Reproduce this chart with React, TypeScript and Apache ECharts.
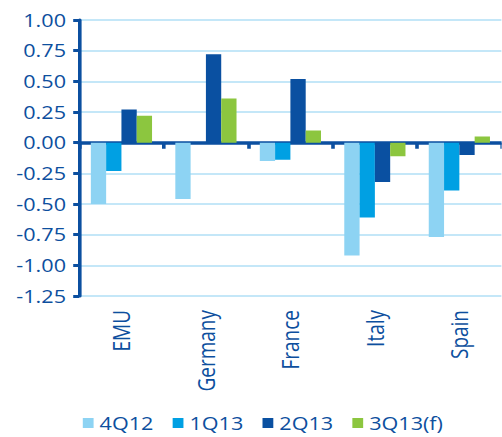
import React, { useEffect, useRef } from "react";
import * as echarts from "echarts";

const categories = ["EMU", "Germany", "France", "Italy", "Spain"];
const seriesNames = ["4Q12", "1Q13", "2Q13", "3Q13(f)"];
const q4_12 = [-0.5, -0.46, -0.15, -0.92, -0.77];
const q1_13 = [-0.23, 0, -0.14, -0.61, -0.39];
const q2_13 = [0.27, 0.72, 0.52, -0.32, -0.1];
const q3_13 = [0.22, 0.36, 0.1, -0.11, 0.05];
const seriesValues = [q4_12, q1_13, q2_13, q3_13];
const colors = ["#8dd3f3", "#00a0e3", "#0a50a1", "#8cc63f"];

const STRETCH = 1.2;
const TEXT = "#0d4f9e";
const FONT = "'Open Sans', 'Noto Sans', sans-serif";

export default function App() {
  const ref = useRef<HTMLDivElement>(null);
  useEffect(() => {
    if (!ref.current) return;
    const chart = echarts.init(ref.current, undefined, { renderer: "svg" });
    chart.setOption({
      animation: false,
      textStyle: { fontFamily: FONT },
      grid: { left: 66, top: 20, width: 352, height: 276, containLabel: false },
      legend: {
        data: seriesNames,
        left: 64,
        top: 409,
        itemWidth: 9,
        itemHeight: 10,
        itemGap: 16,
        icon: "rect",
        textStyle: { color: TEXT, fontSize: 18, fontFamily: FONT },
      },
      xAxis: [
        {
          type: "category",
          data: categories,
          position: "bottom",
          axisLine: { show: false, onZero: false },
          axisTick: { show: false },
          axisLabel: {
            rotate: 90,
            color: TEXT,
            fontSize: 19,
            fontFamily: FONT,
            margin: 14,
          },
          splitLine: { show: false },
        },
        {
          type: "category",
          data: categories,
          position: "bottom",
          axisLine: { show: true, onZero: true, lineStyle: { color: "#0b4fa0", width: 3.5 } },
          axisTick: { show: true, length: 6, lineStyle: { color: "#0b4fa0", width: 3 } },
          axisLabel: { show: false },
          splitLine: { show: false },
        },
      ],
      yAxis: {
        type: "value",
        min: -1.25,
        max: 1,
        interval: 0.25,
        axisLine: { show: true, lineStyle: { color: "#0b4fa0", width: 3 } },
        axisTick: { show: true, length: 5, lineStyle: { color: "#0b4fa0", width: 3 } },
        axisLabel: {
          color: TEXT,
          fontSize: 18,
          fontFamily: FONT,
          margin: 11,
          formatter: (v: number) => v.toFixed(2),
        },
        splitLine: { show: true, lineStyle: { color: "#c4e7f8", width: 2 } },
      },
      series: seriesNames.map((name, i) => ({
        name,
        type: "bar",
        xAxisIndex: 0,
        data: seriesValues[i],
        barWidth: 12.75,
        barGap: "0%",
        itemStyle: { color: colors[i] },
        z: 1,
      })),
    });
    return () => chart.dispose();
  }, []);
  return (
    <div style={{ position: "absolute", left: 0, top: 0, width: 502, height: 437, overflow: "hidden", background: "#fff" }}>
      <div
        ref={ref}
        style={{
          width: 502 / STRETCH,
          height: 437,
          transform: `scaleX(${STRETCH})`,
          transformOrigin: "0 0",
        }}
      />
    </div>
  );
}
